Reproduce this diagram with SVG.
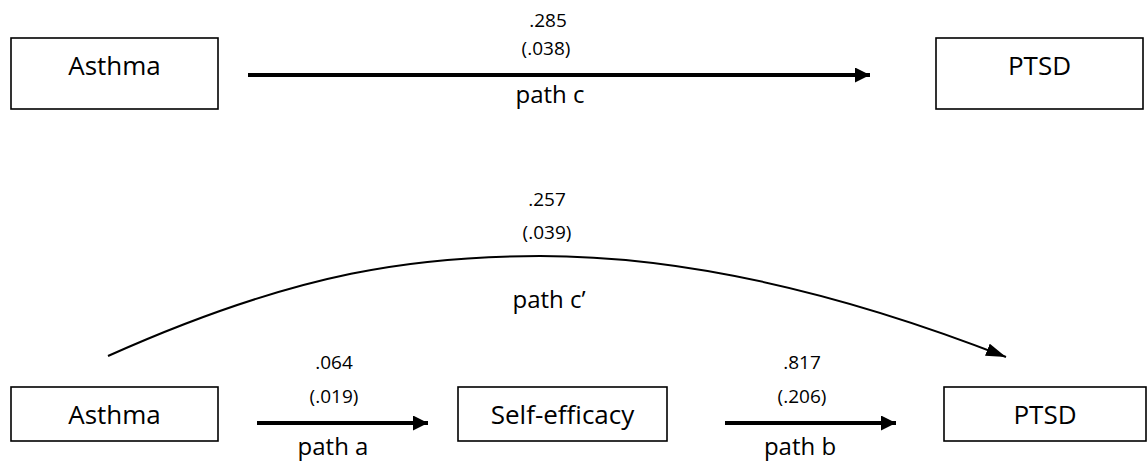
<svg xmlns="http://www.w3.org/2000/svg" width="1148" height="467" viewBox="0 0 1148 467">
<style>
  .box { fill: #ffffff; stroke: #000000; stroke-width: 1.6; }
  .lbl { font-family: "Open Sans", "Liberation Sans", sans-serif; font-size: 26px; fill: #000; text-anchor: middle; }
  .num { font-family: "Open Sans", "Liberation Sans", sans-serif; font-size: 19px; fill: #000; text-anchor: middle; }
  .path { font-family: "Open Sans", "Liberation Sans", sans-serif; font-size: 24px; fill: #000; text-anchor: middle; }
  .thick { stroke: #000; stroke-width: 4; fill: none; }
  .thin { stroke: #000; stroke-width: 2; fill: none; }
</style>
<defs>
  <marker id="head" markerUnits="userSpaceOnUse" markerWidth="16" markerHeight="16" refX="15" refY="7.5" orient="auto">
    <path d="M0,0 L15,7.5 L0,15 Z" fill="#000"/>
  </marker>
  <marker id="headc" markerUnits="userSpaceOnUse" markerWidth="22" markerHeight="16" refX="20" refY="6.5" orient="auto">
    <path d="M0,0 L20,6.5 L0,13 Z" fill="#000"/>
  </marker>
</defs>
<rect width="1148" height="467" fill="#ffffff"/>

<g id="asthma-top">
  <rect class="box" x="11" y="38" width="207" height="71"/>
  <text class="lbl" x="114.5" y="75">Asthma</text>
</g>
<g id="ptsd-top">
  <rect class="box" x="936" y="38" width="207" height="71"/>
  <text class="lbl" x="1039.5" y="75">PTSD</text>
</g>
<g id="asthma-bottom">
  <rect class="box" x="11" y="387" width="207" height="54"/>
  <text class="lbl" x="114.5" y="424">Asthma</text>
</g>
<g id="self-efficacy">
  <rect class="box" x="458" y="387" width="209" height="54"/>
  <text class="lbl" x="562.5" y="424">Self-efficacy</text>
</g>
<g id="ptsd-bottom">
  <rect class="box" x="944" y="387" width="202" height="54"/>
  <text class="lbl" x="1045" y="424">PTSD</text>
</g>

<g id="connectors">
  <line class="thick" x1="248" y1="75" x2="870" y2="75" marker-end="url(#head)"/>
  <line class="thick" x1="257" y1="423" x2="428" y2="423" marker-end="url(#head)"/>
  <line class="thick" x1="725" y1="423" x2="896" y2="423" marker-end="url(#head)"/>
  <path class="thin" d="M108,356 C300,270 420,256 540,256 C700,256 860,300 1006,357" marker-end="url(#headc)"/>
</g>

<g id="labels">
  <text class="num" x="548" y="27">.285</text>
  <text class="num" x="546" y="55">(.038)</text>
  <text class="path" x="550" y="103">path c</text>

  <text class="num" x="547" y="206">.257</text>
  <text class="num" x="547" y="239">(.039)</text>
  <text class="path" x="549" y="308">path c’</text>

  <text class="num" x="334" y="369">.064</text>
  <text class="num" x="334" y="403">(.019)</text>
  <text class="path" x="333" y="455">path a</text>

  <text class="num" x="802" y="369">.817</text>
  <text class="num" x="802" y="403">(.206)</text>
  <text class="path" x="800" y="455">path b</text>
</g>
</svg>
